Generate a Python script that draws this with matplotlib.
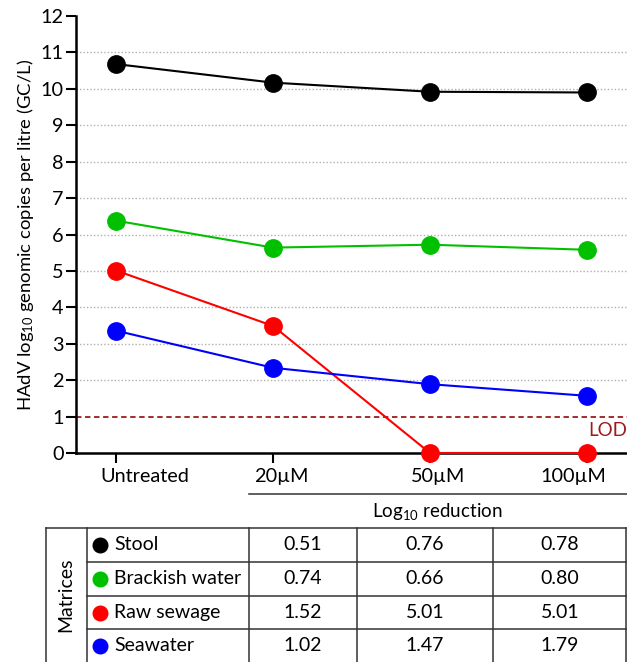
import matplotlib
matplotlib.use("Agg")
import matplotlib.pyplot as plt
from matplotlib.lines import Line2D
from matplotlib.transforms import ScaledTranslation

plt.rcParams['font.family'] = ['Lato', 'DejaVu Sans']
plt.rcParams['mathtext.fontset'] = 'custom'
plt.rcParams['mathtext.rm'] = 'Lato'
plt.rcParams['mathtext.it'] = 'Lato:italic'

# ---- data ----
categories = ["Untreated", "20µM", "50µM", "100µM"]
series_names = ["Stool", "Brackish water", "Raw sewage", "Seawater"]
series_colors = ["#000000", "#00c000", "#ff0000", "#0000ff"]
stool = [10.68, 10.17, 9.92, 9.90]
brackish = [6.38, 5.64, 5.72, 5.58]
sewage = [5.01, 3.49, 0.0, 0.0]
seawater = [3.36, 2.34, 1.89, 1.57]
series_values = [stool, brackish, sewage, seawater]
lod = 1.0
yticks = list(range(0, 13))
# log10 reduction table (20, 50, 100 µM)
reduction = [
    ["0.51", "0.76", "0.78"],
    ["0.74", "0.66", "0.80"],
    ["1.52", "5.01", "5.01"],
    ["1.02", "1.47", "1.79"],
]

W, H = 627, 662
fig = plt.figure(figsize=(W / 100, H / 100), dpi=100)

def fx(px):
    return px / W

def fy(py):
    return 1 - py / H

ax_l, ax_r, ax_t, ax_b = 76, 627, 16, 453
ax = fig.add_axes([fx(ax_l), fy(ax_b), fx(ax_r - ax_l), (ax_b - ax_t) / H])

x = list(range(len(categories)))
for vals, col in zip(series_values, series_colors):
    ax.plot(x, vals, color=col, lw=1.5, marker='o', ms=12.5, mec=col, mfc=col,
            clip_on=False, zorder=5)

for yv in yticks[2:12]:
    ax.axhline(yv, color='#b0b0b0', lw=1.0, ls=(0, (1, 1.5)), zorder=1)
ax.axhline(lod, color='#9b1c1c', lw=1.3, ls=(0, (3, 2)), zorder=2)
ax.text(1.0, 0.84, "LOD", color='#9b1c1c', fontsize=13.5, ha='right', va='top',
        transform=ax.get_yaxis_transform())

ax.set_xlim(-0.255, 3.255)
ax.set_ylim(0, 12)
ax.set_yticks(yticks)
ax.set_xticks(x)
ax.set_xticklabels(categories)
ax.tick_params(axis='both', labelsize=14.3, width=1.5, length=7, color='black')
ax.tick_params(axis='x', pad=4)
ax.tick_params(axis='y', pad=2)
# label offsets seen in the reference (pixels)
label_shift = [29, 8, 8, -14]
for lab, dx in zip(ax.get_xticklabels(), label_shift):
    lab.set_transform(lab.get_transform() + ScaledTranslation(dx / 100, 0, fig.dpi_scale_trans))
for s in ['top', 'right']:
    ax.spines[s].set_visible(False)
for s in ['left', 'bottom']:
    ax.spines[s].set_linewidth(1.8)
ax.set_ylabel("HAdV log$_{10}$ genomic copies per litre (GC/L)", fontsize=13.3, labelpad=3)

# ---- table overlay ----
ov = fig.add_axes([0, 0, 1, 1])
ov.set_xlim(0, W)
ov.set_ylim(H, 0)
ov.axis('off')

lc = '#333333'
lw = 1.1
def hline(y, x0, x1):
    ov.add_line(Line2D([x0, x1], [y, y], color=lc, lw=lw))
def vline(xp, y0, y1):
    ov.add_line(Line2D([xp, xp], [y0, y1], color=lc, lw=lw))

hline(494, 249, 627)
ov.text(437, 511, "Log$_{10}$ reduction", fontsize=13.5, ha='center', va='center')

row_edges = [528, 562, 596, 629, 662]
col_l, col_name, col_v1, col_v2, col_v3, col_r = 46, 87, 249, 357, 493, 626
hline(528, col_l, col_r)
for ye in row_edges[1:-1]:
    hline(ye, col_name, col_r)
for xp in [col_l, col_name, col_v1, col_v2, col_v3, col_r]:
    vline(xp, 528, 662)

ov.text(66, 595, "Matrices", fontsize=14, rotation=90, ha='center', va='center')

val_centers = [303, 425, 560]
for i, (name, col) in enumerate(zip(series_names, series_colors)):
    yc = (row_edges[i] + row_edges[i + 1]) / 2
    ov.plot([100], [yc], 'o', ms=10.5, color=col)
    ov.text(114, yc, name, fontsize=14, ha='left', va='center')
    for j, v in enumerate(reduction[i]):
        ov.text(val_centers[j], yc, v, fontsize=14, ha='center', va='center')

fig.savefig("out.png", dpi=100)
